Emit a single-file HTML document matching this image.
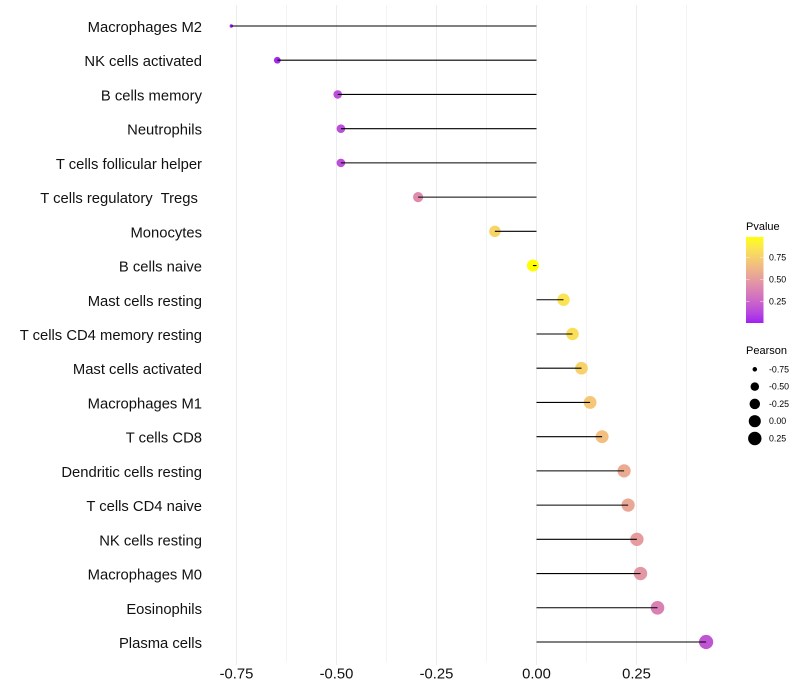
<!DOCTYPE html>
<html>
<head>
<meta charset="utf-8">
<title>Lollipop chart</title>
<style>
html,body{margin:0;padding:0;background:#fff;}
svg{display:block;font-family:"Liberation Sans",sans-serif;}
text{white-space:pre;}
</style>
</head>
<body>
<svg id="chart" width="800" height="700" viewBox="0 0 800 700" xmlns="http://www.w3.org/2000/svg"></svg>
<script>
const categories = ["Macrophages M2","NK cells activated","B cells memory","Neutrophils","T cells follicular helper","T cells regulatory  Tregs ","Monocytes","B cells naive","Mast cells resting","T cells CD4 memory resting","Mast cells activated","Macrophages M1","T cells CD8","Dendritic cells resting","T cells CD4 naive","NK cells resting","Macrophages M0","Eosinophils","Plasma cells"];
const pearson = [-0.763,-0.648,-0.497,-0.489,-0.489,-0.296,-0.104,-0.009,0.0675,0.09,0.1125,0.134,0.164,0.219,0.229,0.251,0.26,0.3025,0.424];
const pvalue = [0.005,0.03,0.15,0.15,0.15,0.42,0.77,0.98,0.85,0.82,0.76,0.71,0.67,0.57,0.55,0.5,0.47,0.37,0.18];
const xTicks = [-0.75,-0.5,-0.25,0,0.25];
const xMinorTicks = [-0.625,-0.375,-0.125,0.125,0.375];
const xTickLabels = ["-0.75","-0.50","-0.25","0.00","0.25"];
const colorLegendTicks = [0.75,0.5,0.25];
const colorLegendLabels = ["0.75","0.50","0.25"];
const sizeLegendValues = [-0.75,-0.5,-0.25,0,0.25];
const sizeLegendLabels = ["-0.75","-0.50","-0.25","0.00","0.25"];

const svg = document.getElementById('chart');
const NS = 'http://www.w3.org/2000/svg';
function xScale(v){ return 536.5 + 400 * v; }
function yScale(i){ return 26 + 34.222 * i; }
function rScale(p){
  const lo = Math.min(...pearson), hi = Math.max(...pearson);
  const t = Math.max(0, Math.min(1, (p - lo) / (hi - lo)));
  return 1.7 + 5.4 * Math.sqrt(t);
}
function rgbToLab(r, g, b){
  const lin = c => { c /= 255; return c > 0.04045 ? Math.pow((c + 0.055) / 1.055, 2.4) : c / 12.92; };
  const R = lin(r), G = lin(g), B = lin(b);
  const f = t => t > 0.008856 ? Math.cbrt(t) : 7.787 * t + 16 / 116;
  const X = f((0.4124 * R + 0.3576 * G + 0.1805 * B) / 0.95047);
  const Y = f(0.2126 * R + 0.7152 * G + 0.0722 * B);
  const Z = f((0.0193 * R + 0.1192 * G + 0.9505 * B) / 1.08883);
  return [116 * Y - 16, 500 * (X - Y), 200 * (Y - Z)];
}
function labToRgb(L, a, b){
  const fy = (L + 16) / 116, fx = fy + a / 500, fz = fy - b / 200;
  const inv = t => t * t * t > 0.008856 ? t * t * t : (t - 16 / 116) / 7.787;
  const X = inv(fx) * 0.95047, Y = inv(fy), Z = inv(fz) * 1.08883;
  const gam = c => { c = Math.max(0, Math.min(1, c)); return Math.round(255 * (c > 0.0031308 ? 1.055 * Math.pow(c, 1 / 2.4) - 0.055 : 12.92 * c)); };
  return 'rgb(' + gam(3.2406 * X - 1.5372 * Y - 0.4986 * Z) + ',' + gam(-0.9689 * X + 1.8758 * Y + 0.0415 * Z) + ',' + gam(0.0557 * X - 0.204 * Y + 1.057 * Z) + ')';
}
const LAB_LOW = rgbToLab(160, 32, 240);
const LAB_HIGH = rgbToLab(255, 255, 0);
function colorAt(t){
  t = Math.max(0, Math.min(1, t));
  return labToRgb(LAB_LOW[0] + (LAB_HIGH[0] - LAB_LOW[0]) * t, LAB_LOW[1] + (LAB_HIGH[1] - LAB_LOW[1]) * t, LAB_LOW[2] + (LAB_HIGH[2] - LAB_LOW[2]) * t);
}
function colorScale(v){
  const lo = Math.min(...pvalue), hi = Math.max(...pvalue);
  return colorAt((v - lo) / (hi - lo));
}
function colorBarY(v){ return 323 - (v - 0.005) * 88.2; }
function add(tag, attrs, text, parent){
  const el = document.createElementNS(NS, tag);
  for (const k in attrs) el.setAttribute(k, attrs[k]);
  if (text !== undefined) el.textContent = text;
  (parent || svg).appendChild(el);
  return el;
}
const PANEL_TOP = 5, PANEL_BOTTOM = 662;

xMinorTicks.forEach(function(v){
  const el = add('line', {x1:xScale(v), x2:xScale(v), y1:PANEL_TOP, y2:PANEL_BOTTOM, stroke:'#f3f3f3', 'stroke-width':1});
  
  
});
xTicks.forEach(function(v){
  const el = add('line', {x1:xScale(v), x2:xScale(v), y1:PANEL_TOP, y2:PANEL_BOTTOM + 3, stroke:'#ececec', 'stroke-width':1});
  
  
});

categories.forEach(function(c, i){
  const label = add('text', {x:202, y:yScale(i)+6, 'text-anchor':'end', 'font-size':14.8, fill:'#111'}, c);
  
  

  const dot = add('circle', {cx:xScale(pearson[i]), cy:yScale(i), r:rScale(pearson[i]), fill:colorScale(pvalue[i])});
  
  

  const stem = add('line', {x1:xScale(0), x2:xScale(pearson[i]), y1:yScale(i), y2:yScale(i), stroke:'#000', 'stroke-width':1.07});
  
  
});

xTicks.forEach(function(v, i){
  const t = add('text', {x:xScale(v), y:678.5, 'text-anchor':'middle', 'font-size':14.8, fill:'#111'}, xTickLabels[i]);
  
  
});

const colorTitle = add('text', {x:746, y:230, 'font-size':11, fill:'#000'}, 'Pvalue');



const defs = add('defs', {});
const grad = add('linearGradient', {id:'pgrad', x1:0, y1:1, x2:0, y2:0}, undefined, defs);
for (let s = 0; s <= 20; s++) {
  add('stop', {offset:s / 20, 'stop-color':colorAt(s / 20)}, undefined, grad);
}
const bar = add('rect', {x:746, y:237, width:17.5, height:86, fill:'url(#pgrad)'});



colorLegendTicks.forEach(function(v, i){
  const y = colorBarY(v);
  const t1 = add('line', {x1:746, x2:749.5, y1:y, y2:y, stroke:'#fff', 'stroke-opacity':0.6, 'stroke-width':0.7});
  
  
  const t2 = add('line', {x1:760, x2:763.5, y1:y, y2:y, stroke:'#fff', 'stroke-opacity':0.6, 'stroke-width':0.7});
  
  
  const lab = add('text', {x:769, y:y+3, 'font-size':8.8, fill:'#000'}, colorLegendLabels[i]);
  
  
});

const sizeTitle = add('text', {x:746, y:354, 'font-size':11, fill:'#000'}, 'Pearson');



sizeLegendValues.forEach(function(v, i){
  const y = 369.3 + 17.3 * i;
  const c = add('circle', {cx:754.8, cy:y, r:rScale(v), fill:'#000'});
  
  
  const lab = add('text', {x:769, y:y+3, 'font-size':8.8, fill:'#000'}, sizeLegendLabels[i]);
  
  
});
</script>
</body>
</html>
